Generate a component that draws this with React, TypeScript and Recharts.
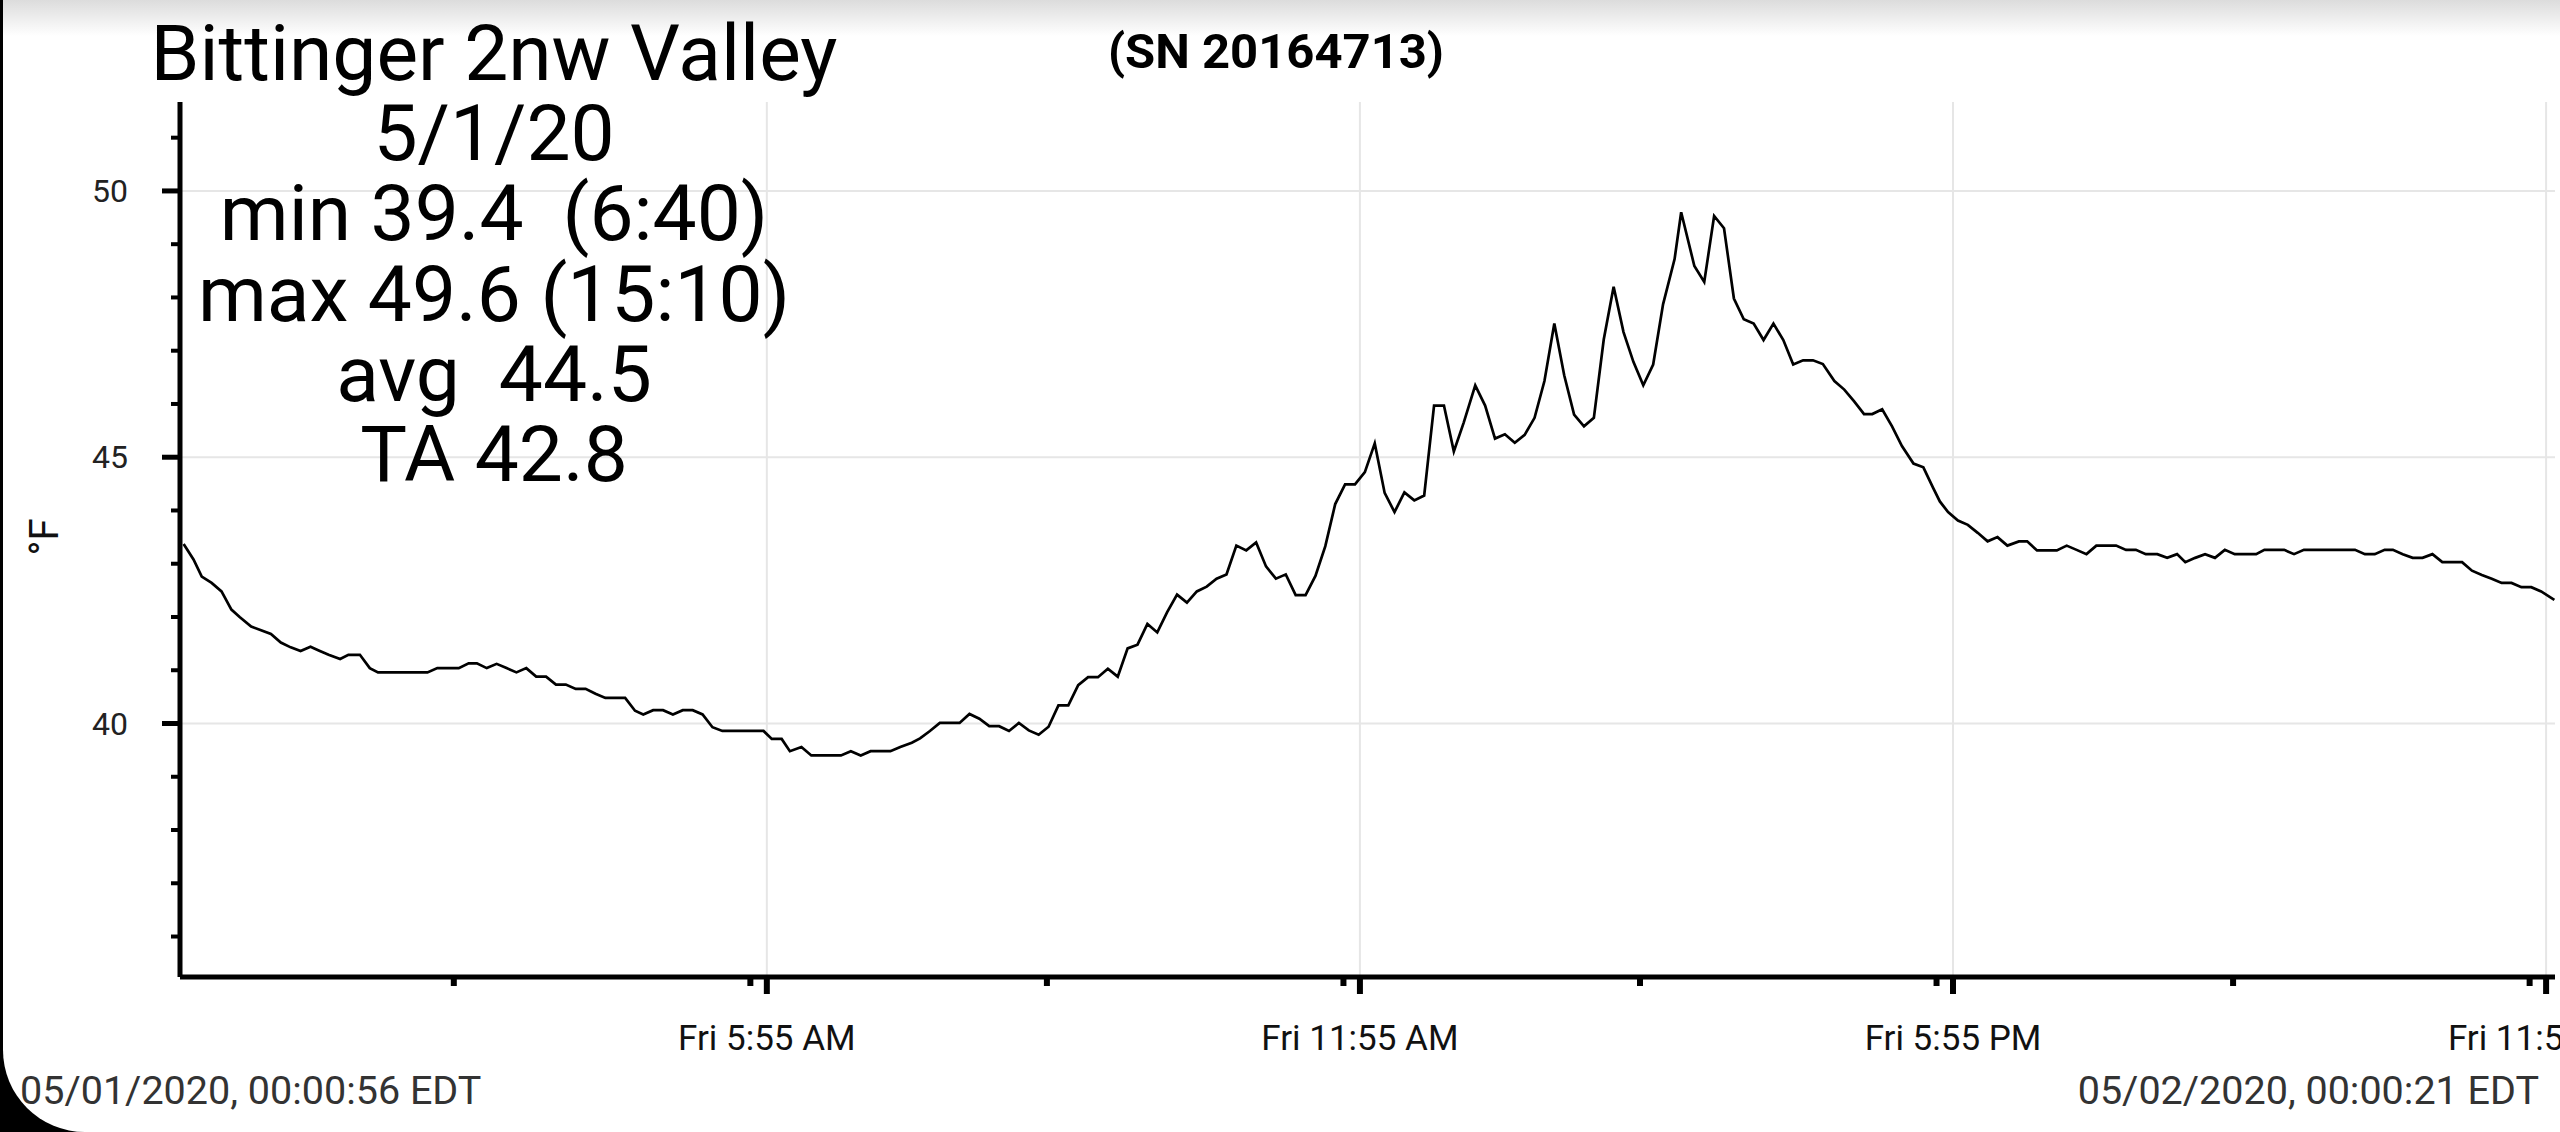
import React from "react";
import { LineChart, Line, XAxis, YAxis, ReferenceLine } from "recharts";

// minutes after midnight, 5/1/20
const minutes = [
  1, 7, 12, 18, 24, 30, 35, 42, 48, 54, 60, 66, 72, 78, 83, 89, 96, 101, 108,
  114, 119, 149, 155, 168, 174, 179, 185, 191, 197, 203, 209, 215, 221, 227,
  233, 239, 245, 251, 257, 269, 275, 280, 286, 292, 298, 304, 310, 316, 322,
  328, 353, 358, 364, 369, 376, 382, 400, 406, 412, 418, 430, 436, 443, 448,
  454, 460, 472, 478, 484, 490, 496, 502, 508, 514, 520, 526, 532, 538, 544,
  550, 556, 562, 568, 574, 580, 586, 592, 598, 604, 610, 616, 622, 628, 634,
  640, 646, 652, 658, 664, 670, 676, 682, 688, 694, 700, 706, 712, 718, 724,
  730, 736, 742, 748, 754, 760, 766, 772, 778, 785, 791, 797, 803, 809, 815,
  821, 827, 833, 839, 845, 851, 857, 863, 869, 875, 881, 887, 893, 899, 906,
  910, 918, 924, 930, 936, 942, 948, 954, 960, 966, 972, 978, 984, 990, 996,
  1003, 1009, 1015, 1021, 1026, 1032, 1038, 1044, 1051, 1057, 1063, 1067,
  1072, 1078, 1084, 1090, 1096, 1102, 1108, 1115, 1120, 1126, 1138, 1144,
  1150, 1156, 1162, 1174, 1180, 1186, 1192, 1199, 1205, 1211, 1216, 1222,
  1228, 1234, 1240, 1246, 1259, 1264, 1276, 1282, 1288, 1319, 1325, 1331,
  1337, 1342, 1348, 1354, 1360, 1366, 1372, 1384, 1390, 1396, 1402, 1408,
  1414, 1420, 1426, 1432, 1440,
];

// °F
const temps = [
  43.37, 43.08, 42.76, 42.64, 42.48, 42.14, 42.0, 41.82, 41.75, 41.68, 41.52,
  41.43, 41.36, 41.44, 41.37, 41.29, 41.21, 41.29, 41.29, 41.04, 40.96, 40.96,
  41.04, 41.04, 41.13, 41.13, 41.04, 41.12, 41.04, 40.96, 41.04, 40.88, 40.88,
  40.73, 40.73, 40.65, 40.65, 40.56, 40.48, 40.48, 40.24, 40.17, 40.25, 40.25,
  40.17, 40.25, 40.25, 40.17, 39.93, 39.86, 39.86, 39.71, 39.71, 39.48, 39.56,
  39.4, 39.4, 39.48, 39.4, 39.48, 39.48, 39.56, 39.64, 39.72, 39.86, 40.01,
  40.01, 40.18, 40.09, 39.95, 39.95, 39.86, 40.01, 39.87, 39.79, 39.94, 40.34,
  40.34, 40.72, 40.87, 40.87, 41.03, 40.88, 41.41, 41.48, 41.87, 41.71, 42.09,
  42.42, 42.27, 42.48, 42.57, 42.72, 42.8, 43.34, 43.25, 43.4, 42.95, 42.72,
  42.8, 42.41, 42.41, 42.77, 43.33, 44.12, 44.49, 44.49, 44.72, 45.26, 44.33,
  43.97, 44.34, 44.19, 44.28, 45.97, 45.97, 45.11, 45.65, 46.35, 45.97, 45.35,
  45.43, 45.27, 45.42, 45.74, 46.43, 47.51, 46.54, 45.8, 45.58, 45.74, 47.21,
  48.2, 47.35, 46.79, 46.35, 46.74, 47.87, 48.72, 49.6, 48.59, 48.29, 49.53,
  49.3, 47.98, 47.59, 47.51, 47.2, 47.51, 47.2, 46.74, 46.82, 46.82, 46.75,
  46.43, 46.27, 46.05, 45.81, 45.81, 45.9, 45.58, 45.21, 44.88, 44.81, 44.42,
  44.17, 43.97, 43.81, 43.73, 43.58, 43.42, 43.5, 43.34, 43.42, 43.42, 43.25,
  43.25, 43.34, 43.26, 43.18, 43.34, 43.34, 43.26, 43.26, 43.18, 43.18, 43.11,
  43.18, 43.03, 43.11, 43.18, 43.11, 43.26, 43.18, 43.18, 43.26, 43.26, 43.18,
  43.26, 43.26, 43.18, 43.18, 43.26, 43.26, 43.18, 43.11, 43.11, 43.18, 43.03,
  43.03, 42.87, 42.79, 42.72, 42.64, 42.64, 42.56, 42.56, 42.48, 42.32,
];

const yMajor = [40, 45, 50];
const yMinor = [36, 37, 38, 39, 41, 42, 43, 44, 46, 47, 48, 49, 51];
const xMajor = [355, 715, 1075, 1435];
const xMajorLabels = ["Fri 5:55 AM", "Fri 11:55 AM", "Fri 5:55 PM", "Fri 11:55 PM"];
const xMinor = [165, 345, 525, 705, 885, 1065, 1245, 1425];

const title = "Bittinger 2nw Valley";
const serial = "(SN 20164713)";
const statLines = ["5/1/20", "min 39.4  (6:40)", "max 49.6 (15:10)", "avg  44.5", "TA 42.8"];
const startStamp = "05/01/2020, 00:00:56 EDT";
const endStamp = "05/02/2020, 00:00:21 EDT";
const unit = "°F";

const data = minutes.map((m, i) => ({ m, temp: temps[i] }));

const FONT = "Roboto, 'Noto Sans', sans-serif";
const Y_TICK = 18;
const Y_MARGIN = 34;
const X_TICK = 16;
const X_MARGIN = 8;

const YTick = (props: any) => {
  const { x, y, payload } = props;
  const axisX = x + Y_TICK + Y_MARGIN;
  const major = yMajor.includes(payload.value);
  const len = major ? 18 : 9;
  return (
    <g>
      <line x1={axisX - len} x2={axisX} y1={y} y2={y} stroke="#000" strokeWidth={major ? 5 : 4} />
      {major && (
        <text x={x} y={y} dy="0.35em" textAnchor="end" fontSize={32} fill="#222" fontFamily={FONT}>
          {payload.value}
        </text>
      )}
    </g>
  );
};

const XTick = (props: any) => {
  const { x, y, payload } = props;
  const axisY = y - X_TICK - X_MARGIN;
  const idx = xMajor.indexOf(payload.value);
  const len = idx >= 0 ? 17 : 9;
  return (
    <g>
      <line x1={x} x2={x} y1={axisY} y2={axisY + len} stroke="#000" strokeWidth={6} />
      {idx >= 0 && (
        <text x={x} y={axisY + 73} textAnchor="middle" fontSize={35} fill="#111" fontFamily={FONT}>
          {xMajorLabels[idx]}
        </text>
      )}
    </g>
  );
};

const App = () => (
  <div
    style={{
      position: "fixed",
      left: 0,
      top: 0,
      width: 2560,
      height: 1132,
      overflow: "hidden",
      background: "#000",
      fontFamily: FONT,
    }}
  >
    <div
      style={{
        position: "absolute",
        left: 3,
        top: 0,
        right: 0,
        bottom: 0,
        background: "#fff",
        borderBottomLeftRadius: 82,
        overflow: "hidden",
      }}
    >
      <div
        style={{
          position: "absolute",
          left: 0,
          top: 0,
          right: 0,
          height: 36,
          background: "linear-gradient(#dcdcdc, #ffffff)",
        }}
      />
    </div>
    <div style={{ position: "absolute", left: 0, top: 0 }}>
      <LineChart
        width={2560}
        height={1132}
        data={data}
        margin={{ top: 102, right: 5, bottom: 0, left: 0 }}
      >
        {yMajor.map((v) => (
          <ReferenceLine key={"h" + v} y={v} stroke="#e6e6e6" strokeWidth={2} />
        ))}
        {xMajor.map((v) => (
          <ReferenceLine key={"v" + v} x={v} stroke="#e6e6e6" strokeWidth={2} />
        ))}
        <XAxis
          dataKey="m"
          type="number"
          domain={[-1.2, 1440.4]}
          allowDataOverflow
          ticks={[...xMinor, ...xMajor].sort((a, b) => a - b)}
          interval={0}
          tick={<XTick />}
          tickLine={false}
          tickSize={X_TICK}
          tickMargin={X_MARGIN}
          axisLine={{ stroke: "#000", strokeWidth: 5 }}
          height={155}
        />
        <YAxis
          type="number"
          domain={[35.24, 51.67]}
          allowDataOverflow
          ticks={[...yMinor, ...yMajor].sort((a, b) => a - b)}
          interval={0}
          tick={<YTick />}
          tickLine={false}
          tickSize={Y_TICK}
          tickMargin={Y_MARGIN}
          axisLine={{ stroke: "#000", strokeWidth: 5 }}
          width={180}
        />
        <Line
          type="linear"
          dataKey="temp"
          stroke="#000"
          strokeWidth={2.7}
          dot={false}
          activeDot={false}
          isAnimationActive={false}
        />
      </LineChart>
    </div>
    <svg
      width={2560}
      height={1132}
      style={{ position: "absolute", left: 0, top: 0, pointerEvents: "none" }}
      fontFamily={FONT}
    >
      <text x={494} y={80} textAnchor="middle" fontSize={78.5} fill="#000">
        {title}
      </text>
      <text x={1276} y={68} textAnchor="middle" fontSize={49} fontWeight="bold" fill="#000">
        {serial}
      </text>
      {statLines.map((s, i) => (
        <text
          key={s}
          x={494}
          y={160 + i * 80.3}
          textAnchor="middle"
          fontSize={78.5}
          fill="#000"
          style={{ whiteSpace: "pre" }}
        >
          {s}
        </text>
      ))}
      <text
        x={58}
        y={537}
        transform="rotate(-90 58 537)"
        textAnchor="middle"
        fontSize={40}
        fill="#111"
      >
        {unit}
      </text>
      <text x={20} y={1104} fontSize={39.5} fill="#333">
        {startStamp}
      </text>
      <text x={2539} y={1104} textAnchor="end" fontSize={39.5} fill="#333">
        {endStamp}
      </text>
    </svg>
  </div>
);

export default App;
